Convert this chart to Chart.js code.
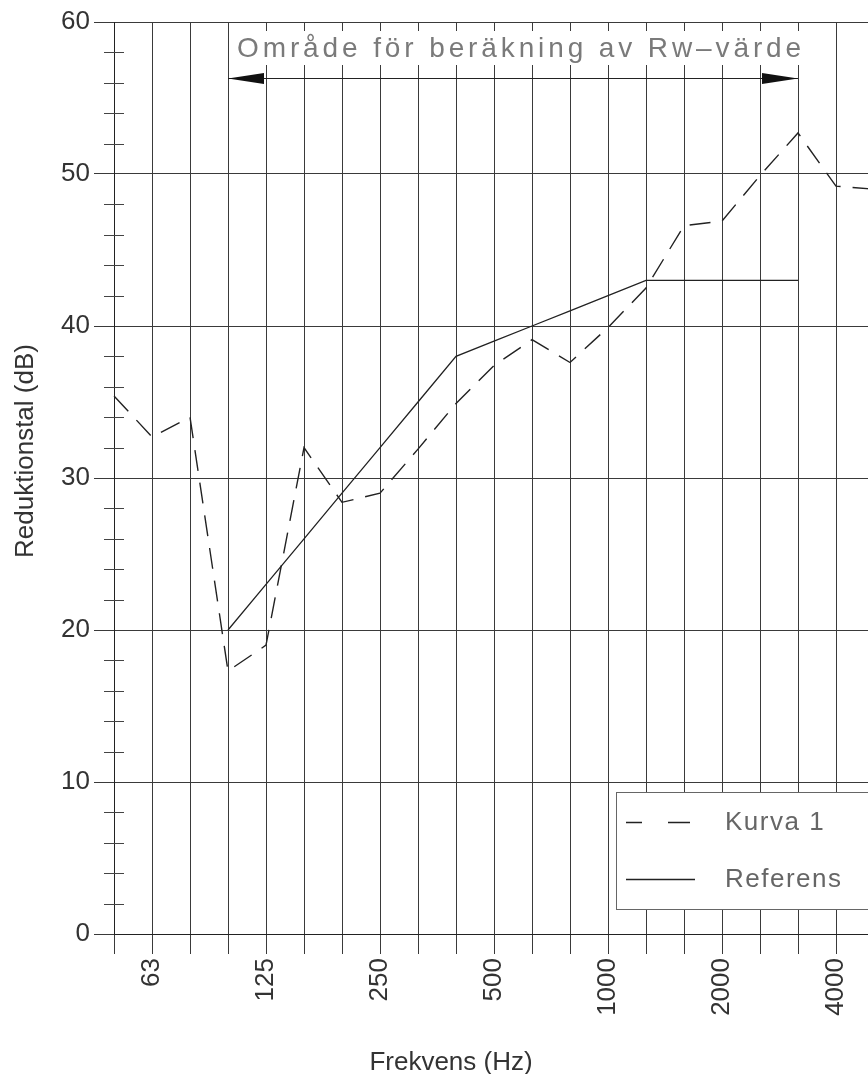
<!DOCTYPE html>
<html><head><meta charset="utf-8">
<script src="https://cdn.jsdelivr.net/npm/chart.js@4.4.0/dist/chart.umd.min.js"></script>
<style>
html,body{margin:0;padding:0;background:#fff;overflow:hidden;width:868px;height:1074px;}
#wrap{position:relative;width:900px;height:1074px;}
canvas{display:block;}
</style></head><body>
<div id="wrap"><canvas id="c" width="900" height="1074"></canvas></div>
<script>
const bands = ["50","63","80","100","125","160","200","250","315","400","500","630","800","1000","1250","1600","2000","2500","3150","4000","5000"];
const labeledBands = ["63","125","250","500","1000","2000","4000"];
const kurva1 = [35.4,32.7,34.0,17.3,19.0,32.0,28.4,29.0,31.9,34.9,37.4,39.1,37.6,39.9,42.5,46.6,46.9,49.9,52.7,49.2,49.0];
const referens = [null,null,null,20,23,26,29,32,35,38,39,40,41,42,43,43,43,43,43,null,null];
const yMin = 0, yMax = 60, yStep = 10, yMinorStep = 2;
const rangeStart = "100", rangeEnd = "3150";
const rangeText = "Område för beräkning av Rw–värde";
const xTitle = "Frekvens (Hz)";
const yTitle = "Reduktionstal (dB)";

const FONT = "'Liberation Sans', Arial, Helvetica, sans-serif";
Chart.defaults.font.family = FONT;

const decor = {
  id: 'decor',
  afterDraw(chart) {
    const ctx = chart.ctx;
    const xs = chart.scales.x, ys = chart.scales.y;
    const ca = chart.chartArea;
    ctx.save();
    // minor ticks on y axis
    ctx.strokeStyle = '#444'; ctx.lineWidth = 1;
    for (let v = yMin; v <= yMax; v += yMinorStep) {
      if (v % yStep === 0) continue;
      const y = Math.round(ys.getPixelForValue(v)) + 0.5;
      ctx.beginPath(); ctx.moveTo(ca.left - 10, y); ctx.lineTo(ca.left + 10, y); ctx.stroke();
    }
    // annotation: range arrow
    const x1 = xs.getPixelForValue(bands.indexOf(rangeStart));
    const x2 = xs.getPixelForValue(bands.indexOf(rangeEnd));
    const ay = 78.5;
    ctx.fillStyle = '#fff';
    ctx.fillRect(x1 + 3, 31, x2 - x1 + 4, 34);
    ctx.font = "28px " + FONT;
    ctx.fillStyle = '#7a7a7a';
    ctx.textBaseline = 'alphabetic';
    ctx.textAlign = 'left';
    const tx0 = x1 + 9, tx1 = x2 + 3;
    const w0 = ctx.measureText(rangeText).width;
    const ls = (tx1 - tx0 - w0) / (rangeText.length - 1);
    ctx.letterSpacing = ls.toFixed(2) + 'px';
    ctx.fillText(rangeText, tx0, 57);
    ctx.letterSpacing = '0px';
    ctx.strokeStyle = '#222'; ctx.lineWidth = 1.2;
    ctx.beginPath(); ctx.moveTo(x1, ay); ctx.lineTo(x2, ay); ctx.stroke();
    ctx.fillStyle = '#111';
    ctx.beginPath(); ctx.moveTo(x1, ay); ctx.lineTo(x1 + 36, ay - 5.5); ctx.lineTo(x1 + 36, ay + 5.5); ctx.closePath(); ctx.fill();
    ctx.beginPath(); ctx.moveTo(x2, ay); ctx.lineTo(x2 - 36, ay - 5.5); ctx.lineTo(x2 - 36, ay + 5.5); ctx.closePath(); ctx.fill();
    // legend
    const lx = 616.5, ly = 792.5, lh = 117;
    ctx.fillStyle = '#fff';
    ctx.fillRect(lx, ly, 300, lh);
    ctx.strokeStyle = '#666'; ctx.lineWidth = 1;
    ctx.strokeRect(lx, ly, 300, lh);
    const ds = chart.data.datasets;
    const rows = [822, 879];
    ds.forEach((d, i) => {
      const y = rows[i] + 0.5;
      ctx.strokeStyle = '#222'; ctx.lineWidth = 1.3;
      ctx.setLineDash(i === 0 ? [16, 26, 24, 200] : []);
      ctx.beginPath(); ctx.moveTo(626, y); ctx.lineTo(i === 0 ? 690 : 695, y); ctx.stroke();
      ctx.setLineDash([]);
      ctx.font = "26px " + FONT;
      ctx.fillStyle = '#666';
      ctx.textBaseline = 'middle';
      ctx.letterSpacing = '1.5px';
      ctx.fillText(d.label, 725, y);
      ctx.letterSpacing = '0px';
    });
    // axis titles
    ctx.fillStyle = '#333';
    ctx.font = "26px " + FONT;
    ctx.textAlign = 'center';
    ctx.textBaseline = 'alphabetic';
    ctx.fillText(xTitle, 451, 1070);
    ctx.save();
    ctx.translate(33, 451);
    ctx.rotate(-Math.PI / 2);
    ctx.fillText(yTitle, 0, 0);
    ctx.restore();
    ctx.restore();
  }
};

new Chart(document.getElementById('c'), {
  type: 'line',
  data: {
    labels: bands,
    datasets: [
      { label: 'Kurva 1', data: kurva1, borderColor: '#222', borderWidth: 1.4, borderDash: [21, 12], pointRadius: 0, tension: 0, fill: false },
      { label: 'Referens', data: referens, borderColor: '#222', borderWidth: 1.3, pointRadius: 0, tension: 0, fill: false, spanGaps: false }
    ]
  },
  options: {
    responsive: false,
    devicePixelRatio: 1,
    animation: false,
    layout: { padding: { top: 22, right: 26, left: 0, bottom: 0 } },
    plugins: { legend: { display: false }, tooltip: { enabled: false }, title: { display: false } },
    scales: {
      x: {
        type: 'category',
        offset: false,
        grid: { color: '#3a3a3a', lineWidth: 1, tickLength: 20, offset: false },
        border: { color: '#222', width: 1 },
        ticks: {
          autoSkip: false, maxRotation: 90, minRotation: 90, padding: 4,
          color: '#333', font: { size: 26 },
          callback: function(v, i) { const b = bands[i]; return labeledBands.includes(b) ? b : ''; }
        },
        afterFit: s => { s.height = 140; s.paddingLeft = 0; s.paddingRight = 0; }
      },
      y: {
        min: yMin, max: yMax,
        grid: { color: '#3a3a3a', lineWidth: 1, tickLength: 20 },
        border: { color: '#222', width: 1 },
        ticks: { stepSize: yStep, padding: 4, color: '#333', font: { size: 26 } },
        afterFit: s => { s.width = 114; s.paddingTop = 0; s.paddingBottom = 0; }
      }
    }
  },
  plugins: [decor]
});
</script>
</body></html>
